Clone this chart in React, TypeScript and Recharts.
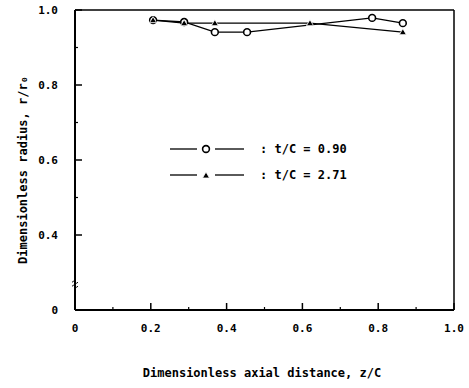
import React from "react";
import { LineChart, Line, XAxis, YAxis, Legend, Label, ReferenceLine } from "recharts";

// dimensionless axial distance z/C
const zThin = [0.206, 0.288, 0.369, 0.454, 0.784, 0.865];
// dimensionless radius r/r0, t/C = 0.90
const rThin = [0.973, 0.968, 0.941, 0.941, 0.979, 0.965];

const zThick = [0.206, 0.288, 0.369, 0.62, 0.865];
// t/C = 2.71
const rThick = [0.973, 0.965, 0.965, 0.965, 0.941];

const xMajor = [0, 0.2, 0.4, 0.6, 0.8, 1.0];
const xMinor = [0.1, 0.3, 0.5, 0.7, 0.9];
// the y axis is broken: the "0" tick sits where 0.2 would be
const yMajor = [0.2, 0.4, 0.6, 0.8, 1.0];
const yMinor = [0.5, 0.7, 0.9];
const yBreak = 0.27;

const thin = zThin.map((x, i) => ({ x, r: rThin[i] }));
const thick = zThick.map((x, i) => ({ x, r: rThick[i] }));

const FONT = "'DejaVu Sans Mono', 'Liberation Mono', monospace";
const TICK_SIZE = 6;
const X_MARGIN = 8;
const Y_MARGIN = 11;

function CircleDot(props: any) {
  const { cx, cy } = props;
  if (cx == null || cy == null) return null;
  return <circle cx={cx} cy={cy} r={3.4} fill="#fff" stroke="#000" strokeWidth={1.6} />;
}

function TriangleDot(props: any) {
  const { cx, cy } = props;
  if (cx == null || cy == null) return null;
  return (
    <path
      d={`M${cx},${cy - 3.5} L${cx + 3.5},${cy + 2.5} L${cx - 3.5},${cy + 2.5} Z`}
      fill="#000"
      stroke="#fff"
      strokeWidth={0.8}
    />
  );
}

// bottom axis tick: label below, tick mark pointing up into the plot
function XTick(props: any) {
  const { x, y, payload } = props;
  const v = payload.value;
  const axisY = y - TICK_SIZE - X_MARGIN;
  const major = xMajor.includes(v);
  return (
    <g>
      <line x1={x} y1={axisY} x2={x} y2={axisY - (major ? 7 : 3)} stroke="#000" strokeWidth={major ? 1.5 : 1.2} />
      {major && (
        <text x={x} y={y} dy="0.71em" textAnchor="middle" fontFamily={FONT} fontWeight={700} fontSize={11} fill="#000">
          {v === 0 ? "0" : v.toFixed(1)}
        </text>
      )}
    </g>
  );
}

// left axis tick: label to the left, tick mark pointing right into the plot
function YTick(props: any) {
  const { x, y, payload } = props;
  const v = payload.value;
  const axisX = x + TICK_SIZE + Y_MARGIN;
  if (v === yBreak) {
    return (
      <path
        d={`M${axisX - 3},${y - 1.5} q1.5,-2 3,0 t3,0 M${axisX - 3},${y + 2.5} q1.5,-2 3,0 t3,0`}
        fill="none"
        stroke="#000"
        strokeWidth={1}
      />
    );
  }
  const major = yMajor.includes(v);
  return (
    <g>
      <line x1={axisX} y1={y} x2={axisX + (major ? 7 : 3)} y2={y} stroke="#000" strokeWidth={major ? 1.5 : 1.2} />
      {major && (
        <text x={x} y={y} dy="0.355em" textAnchor="end" fontFamily={FONT} fontWeight={700} fontSize={11} fill="#000">
          {v === 0.2 ? "0" : v.toFixed(1)}
        </text>
      )}
    </g>
  );
}

function LegendBox() {
  const rows = [
    { label: ": t/C = 0.90", marker: "circle" },
    { label: ": t/C = 2.71", marker: "triangle" },
  ];
  return (
    <div>
      {rows.map((row) => (
        <div key={row.label} style={{ display: "flex", alignItems: "center", height: 26 }}>
          <svg width={74} height={12}>
            <line x1={0} y1={6} x2={27} y2={6} stroke="#000" strokeWidth={1.3} />
            <line x1={45} y1={6} x2={74} y2={6} stroke="#000" strokeWidth={1.3} />
            {row.marker === "circle" ? (
              <CircleDot cx={36} cy={6} />
            ) : (
              <TriangleDot cx={36} cy={6.5} />
            )}
          </svg>
          <span
            style={{
              marginLeft: 16,
              fontFamily: FONT,
              fontWeight: 700,
              fontSize: 12,
              color: "#000",
              whiteSpace: "pre",
            }}
          >
            {row.label}
          </span>
        </div>
      ))}
    </div>
  );
}

export default function App() {
  return (
    <div style={{ position: "absolute", left: 0, top: 0, width: 469, height: 388, background: "#fff" }}>
      <LineChart width={469} height={388} margin={{ top: 10, right: 15, bottom: 48, left: 25 }}>
        <XAxis
          dataKey="x"
          type="number"
          domain={[0, 1]}
          ticks={[...xMajor, ...xMinor]}
          tick={<XTick />}
          tickLine={false}
          tickSize={TICK_SIZE}
          tickMargin={X_MARGIN}
          interval={0}
          height={30}
          axisLine={{ stroke: "#000", strokeWidth: 2 }}
          allowDataOverflow
        >
          <Label
            content={() => (
              <text
                x={262}
                y={377}
                textAnchor="middle"
                fontFamily={FONT}
                fontWeight={700}
                fontSize={12}
                fill="#000"
              >
                Dimensionless axial distance, z/C
              </text>
            )}
          />
        </XAxis>
        <YAxis
          dataKey="r"
          type="number"
          domain={[0.2, 1]}
          ticks={[...yMajor, ...yMinor, yBreak]}
          tick={<YTick />}
          tickLine={false}
          tickSize={TICK_SIZE}
          tickMargin={Y_MARGIN}
          interval={0}
          width={50}
          axisLine={{ stroke: "#000", strokeWidth: 2 }}
          allowDataOverflow
        >
          <Label
            content={() => (
              <text
                x={23}
                y={170}
                transform="rotate(-90, 23, 170)"
                textAnchor="middle"
                dominantBaseline="central"
                fontFamily={FONT}
                fontWeight={700}
                fontSize={12}
                fill="#000"
              >
                Dimensionless radius, r/r₀
              </text>
            )}
          />
        </YAxis>

        {/* frame top and right */}
        <ReferenceLine y={1} stroke="#000" strokeWidth={1.5} />
        <ReferenceLine x={1} stroke="#000" strokeWidth={1.5} />

        <Line
          data={thin}
          dataKey="r"
          name="t/C = 0.90"
          stroke="#000"
          strokeWidth={1.3}
          dot={<CircleDot />}
          activeDot={false}
          isAnimationActive={false}
        />
        <Line
          data={thick}
          dataKey="r"
          name="t/C = 2.71"
          stroke="#000"
          strokeWidth={1.3}
          dot={<TriangleDot />}
          activeDot={false}
          isAnimationActive={false}
        />
        <Legend
          layout="vertical"
          align="center"
          verticalAlign="middle"
          content={() => <LegendBox />}
          wrapperStyle={{ position: "absolute", left: 170, top: 136, width: 200, height: 52 }}
        />
      </LineChart>
    </div>
  );
}
